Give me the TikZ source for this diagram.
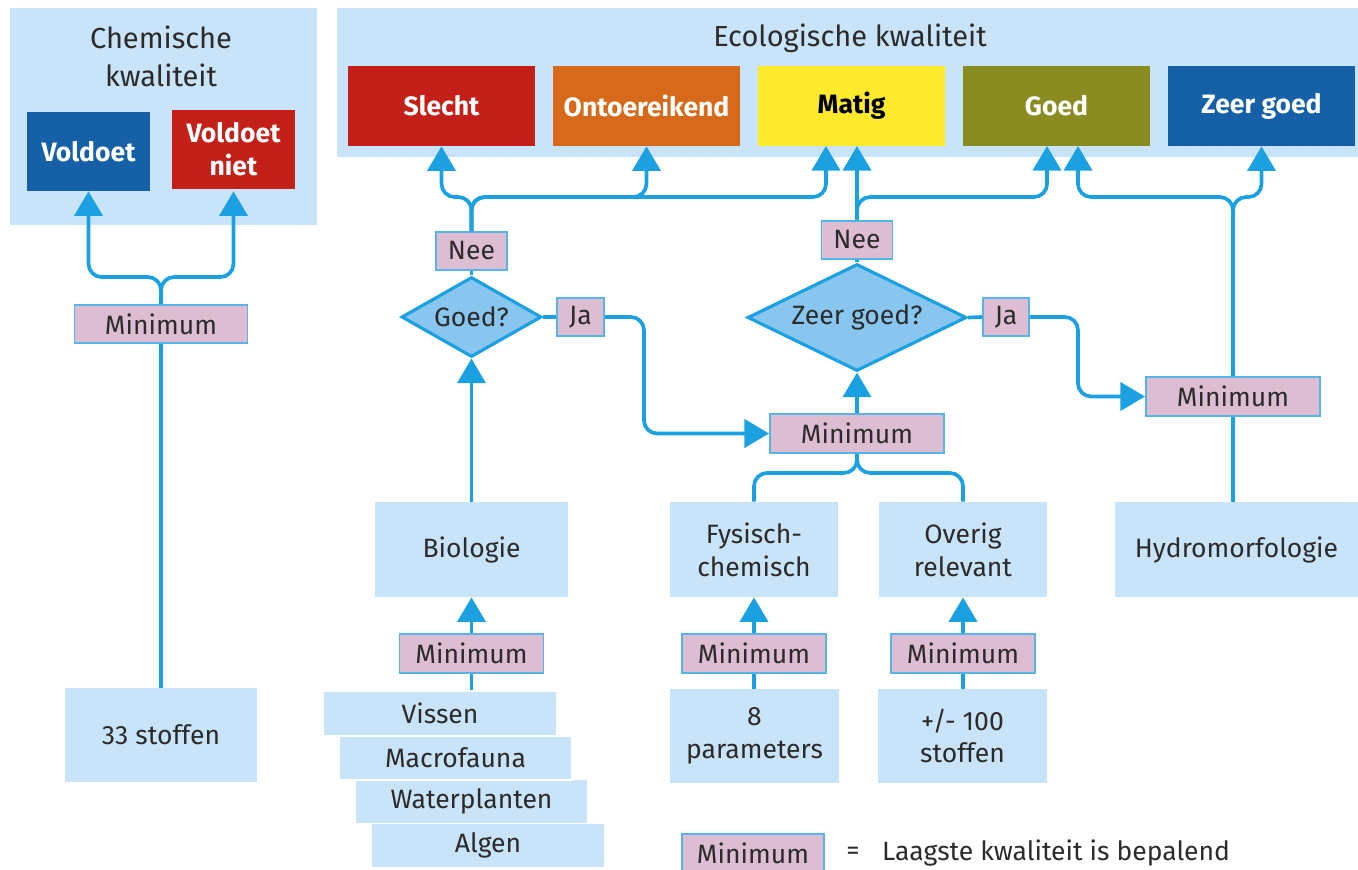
\documentclass[tikz,border=0pt]{standalone}
\usepackage{fontspec}
\setmainfont{Fira Sans}
\usetikzlibrary{arrows.meta,shapes.geometric}
\newcommand\pxu{0.02cm}
\newcommand\bodyf{\fontsize{15.1}{18.7}\selectfont}
\newcommand\titlef{\fontsize{16.5}{21.5}\selectfont}
\definecolor{lblue}{HTML}{C9E4F8}
\definecolor{cblue}{HTML}{1BA1E2}
\definecolor{dfill}{HTML}{88C6F0}
\definecolor{minfill}{HTML}{DDBDD2}
\definecolor{minedge}{HTML}{55B5E8}
\definecolor{txt}{HTML}{2B2B2B}
\definecolor{qred}{HTML}{C3201A}
\definecolor{qorange}{HTML}{D66A1A}
\definecolor{qyellow}{HTML}{FDEA2C}
\definecolor{qolive}{HTML}{8A8C22}
\definecolor{qblue}{HTML}{1660A8}
\begin{document}
\begin{tikzpicture}[x=0.02cm,y=-0.02cm,
  every node/.style={text=txt, font=\bodyf},
  sz/.style 2 args={minimum width=#1*\pxu, minimum height=#2*\pxu, inner sep=0pt},
  lbox/.style={fill=lblue, align=center},
  minbox/.style={fill=minfill, draw=minedge, line width=1.1pt},
  qbox/.style={text=white, font=\bodyf\bfseries, align=center},
  conn/.style={draw=cblue, line width=2.1pt, rounded corners=7.5pt},
  arr/.style={conn, -{Triangle[width=16pt,length=14pt]}},
  dia/.style={diamond, aspect=1.75, fill=dfill, draw=cblue, line width=1.8pt, inner sep=0pt}
]
\useasboundingbox (0,0) rectangle (1358,869);

% panels
\node[lbox, sz={307}{217}] (chem) at (163.5,116.5) {};
\node[lbox, sz={1021}{149}] (eco) at (847.5,82.5) {};
\node[font=\titlef, align=center] (chemt) at (161,56) {Chemische\\kwaliteit};
\node[font=\titlef] (ecot) at (850,38) {Ecologische kwaliteit};

% chemical outcome boxes
\node[qbox, fill=qblue, sz={123}{79}] (vold) at (88.5,151.5) {Voldoet};
\node[qbox, fill=qred, sz={123}{79}] (voldn) at (233.5,149.5) {Voldoet\\niet};
\path (voldn.south) ++(0,2) coordinate (voldnS);

% ecological outcome boxes
\node[qbox, fill=qred, sz={187}{80}] (slecht) at (441.5,106) {Slecht};
\node[qbox, fill=qorange, sz={187}{80}] (ontoer) at (646.5,106) {Ontoereikend};
\node[qbox, fill=qyellow, sz={187}{80}, text=black] (matig) at (851.5,106) {Matig};
\node[qbox, fill=qolive, sz={187}{80}] (goed) at (1056.5,106) {Goed};
\node[qbox, fill=qblue, sz={187}{80}] (zeer) at (1261.5,106) {Zeer goed};
\coordinate (matigL) at (826,146);
\coordinate (matigR) at (857,146);
\coordinate (goedL) at (1047,146);
\coordinate (goedR) at (1078,146);

% left column
\node[minbox, sz={173}{38}] (min1) at (161,324) {Minimum};
\node[lbox, sz={192}{94}] (st33) at (161,735) {33 stoffen};

% decisions
\node[minbox, sz={71}{38}] (nee1) at (471.5,251) {Nee};
\node[dia, minimum width=140*\pxu, minimum height=80*\pxu] (goedq) at (471.5,317) {Goed?};
\node[minbox, sz={47}{38}] (ja1) at (580.5,317) {Ja};

\node[minbox, sz={71}{38}] (nee2) at (857,240) {Nee};
\node[dia, aspect=2, minimum width=219*\pxu, minimum height=107*\pxu] (zgq) at (857,317.5) {Zeer goed?};
\node[minbox, sz={46}{38}] (ja2) at (1006,317) {Ja};

\node[minbox, sz={174}{39}] (min2) at (857,433.5) {Minimum};
\node[minbox, sz={174}{39}] (min3) at (1233,396.5) {Minimum};

% element boxes
\node[lbox, sz={193}{95}] (bio) at (471.5,549.5) {Biologie};
\node[lbox, sz={168}{95}] (fys) at (754,549.5) {Fysisch-\\chemisch};
\node[lbox, sz={168}{95}] (ovr) at (963,549.5) {Overig\\relevant};
\node[lbox, sz={243}{95}] (hydro) at (1236.5,549.5) {Hydromorfologie};

\node[minbox, sz={144}{39}] (min4) at (471.5,653.5) {Minimum};
\node[minbox, sz={144}{39}] (min5) at (754,653.5) {Minimum};
\node[minbox, sz={144}{39}] (min6) at (963,653.5) {Minimum};

\node[lbox, sz={234}{44}, draw=white, line width=0.8pt] (algen) at (488,845.5) {Algen};
\node[lbox, sz={233}{44}, draw=white, line width=0.8pt] (water) at (471.5,801.5) {Waterplanten};
\node[lbox, sz={233}{44}, draw=white, line width=0.8pt] (macro) at (455.5,758) {Macrofauna};
\node[lbox, sz={234}{45}, draw=white, line width=0.8pt] (vissen) at (440,713.5) {Vissen};

\node[lbox, sz={169}{94}] (par8) at (754.5,736) {8\\parameters};
\node[lbox, sz={169}{94}] (st100) at (962.5,736) {+/- 100\\stoffen};

% legend
\node[minbox, sz={142}{38}] (legmin) at (753,853) {Minimum};
\node (legeq) at (853,853) {=};
\node[anchor=west] (legtxt) at (876,853) {Laagste kwaliteit is bepalend};

% connectors: chemical
\draw[conn] (st33.north) -- (min1.south);
\draw[arr] (min1.north) -- ++(0,-27) -| (vold.south);
\draw[arr] (min1.north) -- ++(0,-27) -| (voldnS);

% biology chain
\draw[conn] (vissen.north -| min4.south) -- (min4.south);
\draw[arr] (min4.north) -- (bio.south);
\draw[arr] (bio.north) -- (goedq.south);
\draw[conn] (goedq.north) -- (nee1.south);
\draw[arr] (nee1.north) -- ++(0,-34) -| (slecht.south);
\draw[arr] (nee1.north) -- ++(0,-34) -| (ontoer.south);
\draw[arr] (nee1.north) -- ++(0,-34) -| (matigL);
\draw[conn] (goedq.east) -- (ja1.west);
\draw[arr] (ja1.east) -- ++(39,0) |- (min2.west);

% physico-chemical chain
\draw[conn] (par8.north -| min5.south) -- (min5.south);
\draw[arr] (min5.north) -- (fys.south);
\draw[conn] (st100.north -| min6.south) -- (min6.south);
\draw[arr] (min6.north) -- (ovr.south);
\draw[conn] (min2.south) -- ++(0,19) -| (fys.north);
\draw[conn] (min2.south) -- ++(0,19) -| (ovr.north);
\draw[arr] (min2.north) -- (zgq.south);
\draw[conn] (zgq.north) -- (nee2.south);
\draw[arr] (nee2.north) -- (matigR);
\draw[arr] (nee2.north) -- ++(0,-23) -| (goedL);
\draw[conn] (zgq.east) -- (ja2.west);
\draw[arr] (ja2.east) -- ++(48,0) |- (min3.west);

% hydromorphology
\draw[conn] (min3.south |- hydro.north) -- (min3.south);
\draw[arr] (min3.north) -- ++(0,-179) -| (goedR);
\draw[arr] (min3.north) -- ++(0,-179) -| (zeer.south);
\end{tikzpicture}
\end{document}
